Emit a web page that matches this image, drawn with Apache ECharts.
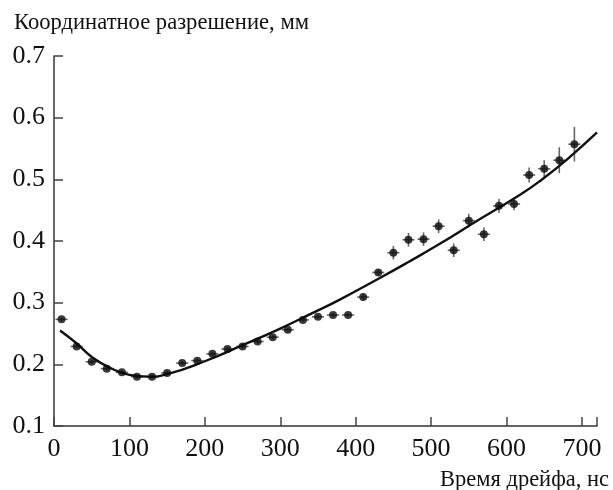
<!DOCTYPE html>
<html>
<head>
<meta charset="utf-8">
<script src="https://cdn.jsdelivr.net/npm/echarts@6/dist/echarts.min.js"></script>
<style>
  html, body { margin: 0; padding: 0; background: #fff; }
  #chart { width: 613px; height: 490px; }
</style>
</head>
<body>
<div id="chart"></div>
<script>
// Drift time bins (ns) and measured coordinate resolution (mm)
const driftTime = [10, 30, 50, 70, 90, 110, 130, 150, 170, 190, 210, 230, 250, 270, 290, 310, 330, 350,
  370, 390, 410, 430, 450, 470, 490, 510, 530, 550, 570, 590, 610, 630, 650, 670, 690];
const resolution = [0.273, 0.229, 0.204, 0.193, 0.187, 0.180, 0.180, 0.186, 0.202, 0.206, 0.217, 0.225,
  0.229, 0.237, 0.244, 0.256, 0.272, 0.277, 0.280, 0.280, 0.309, 0.349, 0.381, 0.402, 0.403, 0.424,
  0.385, 0.433, 0.411, 0.457, 0.460, 0.507, 0.517, 0.531, 0.557];
// Half-widths of the error bars
const timeErr = [8, 8, 8, 8, 8, 8, 8, 8, 8, 8, 8, 8, 8, 8, 8, 8, 8, 8,
  8, 8, 8, 8, 8, 8, 8, 8, 8, 8, 8, 8, 8, 8, 8, 8, 8];
const resErr = [0.003, 0.003, 0.003, 0.003, 0.003, 0.003, 0.003, 0.003, 0.003, 0.003, 0.003, 0.003,
  0.003, 0.003, 0.003, 0.003, 0.003, 0.003, 0.003, 0.003, 0.005, 0.005, 0.011, 0.011, 0.011, 0.011,
  0.011, 0.011, 0.011, 0.011, 0.010, 0.012, 0.014, 0.021, 0.028];
// Fitted curve, sampled
const fitTime = [8, 30, 50, 75, 100, 125, 150, 200, 250, 300, 339, 379, 432, 470, 511, 560,
  618, 644, 680, 720];
const fitRes = [0.255, 0.234, 0.212, 0.194, 0.183, 0.180, 0.184, 0.205, 0.231, 0.258,
  0.281, 0.305, 0.340, 0.366, 0.395, 0.432, 0.475, 0.497, 0.532, 0.576];
// Axis ticks
const xTicks = { min: 0, max: 720, interval: 100 };
const yTicks = { min: 0.1, max: 0.7, interval: 0.1 };

const serif = '"Liberation Serif", "Times New Roman", serif';
const points = driftTime.map((t, i) => [t, resolution[i]]);
const errData = driftTime.map((t, i) => [t, resolution[i], timeErr[i], resErr[i]]);
const fitData = fitTime.map((t, i) => [t, fitRes[i]]);

const chart = echarts.init(document.getElementById('chart'), null, { renderer: 'canvas' });
chart.setOption({
  animation: false,
  backgroundColor: '#fff',
  title: [
    { text: 'Координатное разрешение, мм', left: 9, top: 7,
      textStyle: { fontFamily: serif, fontSize: 22.6, fontWeight: 'normal', color: '#111' } },
    { text: 'Время дрейфа, нс', right: -1, top: 464,
      textStyle: { fontFamily: serif, fontSize: 22.5, fontWeight: 'normal', color: '#111' } }
  ],
  grid: { left: 54, right: 16, top: 56, bottom: 64, containLabel: false },
  xAxis: {
    type: 'value', min: xTicks.min, max: xTicks.max, interval: xTicks.interval,
    axisLine: { show: true, onZero: false, lineStyle: { color: '#333', width: 1.5 } },
    axisTick: { show: true, inside: true, length: 9, lineStyle: { color: '#444', width: 1.5 } },
    axisLabel: { margin: 10, fontFamily: serif, fontSize: 26, color: '#111',
      formatter: v => (v > 700 ? '' : String(v)) },
    splitLine: { show: false }
  },
  yAxis: {
    type: 'value', min: yTicks.min, max: yTicks.max, interval: yTicks.interval,
    axisLine: { show: true, onZero: false, lineStyle: { color: '#333', width: 1.5 } },
    axisTick: { show: true, inside: true, length: 9, lineStyle: { color: '#444', width: 1.5 } },
    axisLabel: { margin: 9, fontFamily: serif, fontSize: 26, color: '#111',
      formatter: v => v.toFixed(1) },
    splitLine: { show: false }
  },
  series: [
    {
      type: 'custom',
      data: errData,
      z: 2,
      renderItem: function (params, api) {
        const t = api.value(0), r = api.value(1), dt = api.value(2), dr = api.value(3);
        const l = api.coord([t - dt, r]), rr = api.coord([t + dt, r]);
        const lo = api.coord([t, r - dr]), hi = api.coord([t, r + dr]);
        const style = { stroke: '#666', lineWidth: 1.6 };
        return {
          type: 'group',
          children: [
            { type: 'line', shape: { x1: l[0], y1: l[1], x2: rr[0], y2: rr[1] }, style },
            { type: 'line', shape: { x1: lo[0], y1: lo[1], x2: hi[0], y2: hi[1] }, style }
          ]
        };
      }
    },
    {
      type: 'line',
      data: fitData,
      smooth: true,
      showSymbol: false,
      z: 3,
      lineStyle: { color: '#111', width: 2.4 }
    },
    {
      type: 'scatter',
      data: points,
      symbol: 'circle',
      symbolSize: 8,
      z: 4,
      itemStyle: { color: '#0a0a0a' }
    }
  ]
});
</script>
</body>
</html>
